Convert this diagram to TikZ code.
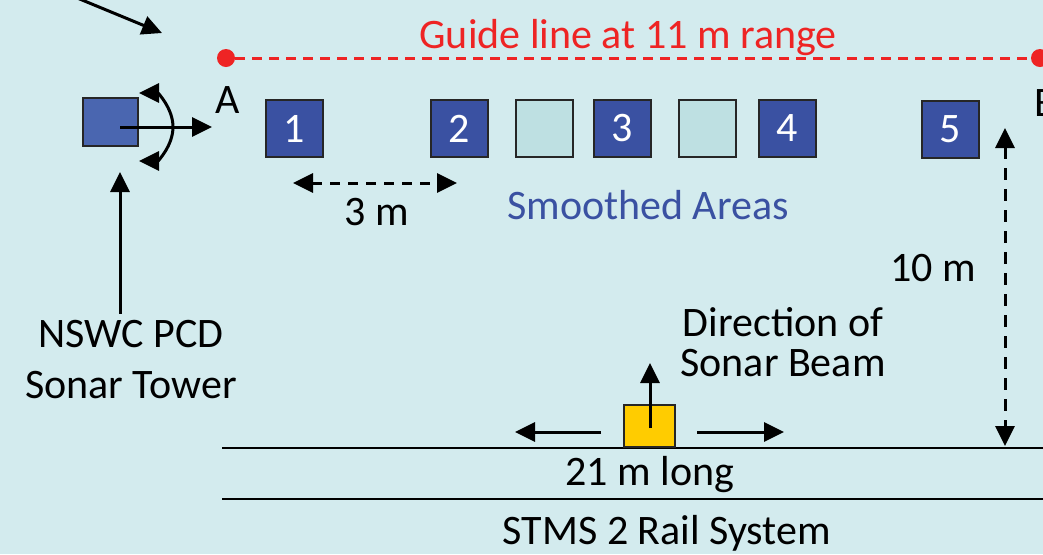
\documentclass[tikz,border=0pt]{standalone}
\usepackage{fontspec}
\setmainfont{Carlito}
\usetikzlibrary{arrows.meta}
\definecolor{bgblue}{HTML}{D3EBEE}
\definecolor{boxblue}{HTML}{3A51A2}
\definecolor{towerblue}{HTML}{4A66B0}
\definecolor{smoothblue}{HTML}{BEE0E2}
\definecolor{guidered}{HTML}{EE2424}
\definecolor{carriage}{HTML}{FFCC00}

\begin{document}
\begin{tikzpicture}[x=0.5pt,y=-0.5pt,
    every node/.style={font=\fontsize{21}{25}\selectfont},
    tip/.style={-{Triangle[length=10pt,width=9.5pt]}},
    twotip/.style={{Triangle[length=10pt,width=9.5pt]}-{Triangle[length=10pt,width=9.5pt]}},
    target/.style={draw=black!85, line width=1pt, minimum size=28.5pt, inner sep=0pt},
    dark/.style={target, fill=boxblue, text=white},
    smooth/.style={target, fill=smoothblue}]
    \fill[bgblue] (0,0) rectangle (1043,554);
    \useasboundingbox (0,0) rectangle (1043,554);
    \clip (0,0) rectangle (1043,554);
    % guide line
    \node[text=guidered] at (628,38) (G) {Guide line at 11 m range};
    \node[circle, fill=guidered, minimum size=9pt, inner sep=0pt] at (226,58) (PA) {};
    \node[circle, fill=guidered, minimum size=9pt, inner sep=0pt] at (1040,58) (PB) {};
    \draw[guidered, line width=1.5pt, dash pattern=on 5pt off 3.5pt] (PA) -- (PB);
    \node[] at (228,100) (A) {A};
    \node[] at (1046,103) (B) {B};
    \coordinate (N0) at (70,-5);
    \coordinate (N1) at (162,33);
    \draw[tip, line width=1.5pt] (N0) -- (N1);
    % tower
    \node[draw=black!85, fill=towerblue, line width=1pt, minimum width=27.5pt, minimum height=24pt, inner sep=0pt] at (110.5,122) (T) {};
    \coordinate (Tc) at (120,127);
    \coordinate (Tb) at (212,127);
    \draw[tip, line width=1.5pt] (Tc) -- (Tb);
    \coordinate (R0) at (139,93);
    \draw[twotip, line width=1.5pt] (R0) arc[start angle=-90, end angle=90, radius=34];
    \node[align=center, font=\fontsize{21}{25.5}\selectfont] at (131,360) (TL) {NSWC PCD\\Sonar Tower};
    \coordinate (Tu) at (120,172);
    \draw[tip, line width=1.5pt] (TL.north -| Tu) -- (Tu);
    % areas
    \node[dark] at (294.5,128.5) (S1) {1};
    \node[dark] at (459.5,128.5) (S2) {2};
    \node[smooth] at (544.5,128.5) (L1) {};
    \node[dark] at (622.5,128.5) (S3) {3};
    \node[smooth] at (707.5,128.5) (L2) {};
    \node[dark] at (787,128.5) (S4) {4};
    \node[dark] at (950,129.5) (S5) {5};
    \coordinate (D0) at (293,183);
    \coordinate (D1) at (457,183);
    \draw[twotip, line width=1.5pt, dash pattern=on 5pt off 4pt] (D0) -- (D1);
    \node[] at (377,212) (D) {3 m};
    \node[text=boxblue] at (648,205) (SA) {Smoothed Areas};
    % range
    \coordinate (V0) at (1005,128);
    \coordinate (V1) at (1005,446);
    \draw[twotip, line width=1.5pt, dash pattern=on 6pt off 4.5pt] (V0) -- (V1);
    \node[] at (933,268) (V) {10 m};
    % rail
    \coordinate (RL0) at (222,448);
    \coordinate (RR0) at (1043,448);
    \coordinate (RL1) at (222,499);
    \coordinate (RR1) at (1043,499);
    \draw[line width=1pt] (RL0) -- (RR0);
    \draw[line width=1pt] (RL1) -- (RR1);
    \node[draw=black!85, fill=carriage, line width=1pt, minimum width=25.5pt, minimum height=21pt, inner sep=0pt, anchor=south] at (649.5,448) (C) {};
    \coordinate (Cc) at (650,428);
    \coordinate (Cu) at (650,363);
    \draw[tip, line width=1.5pt] (Cc) -- (Cu);
    \coordinate (CL0) at (601,432);
    \coordinate (CL1) at (515,432);
    \coordinate (CR0) at (697,432);
    \coordinate (CR1) at (784,432);
    \draw[tip, line width=1.5pt] (CL0) -- (CL1);
    \draw[tip, line width=1.5pt] (CR0) -- (CR1);
    \node[align=center, font=\fontsize{21}{20}\selectfont] at (783,342) (DB) {Direction of\\Sonar Beam};
    \node[] at (650,475) (RL) {21 m long};
    \node[] at (667,533) (RS) {STMS 2 Rail System};
\end{tikzpicture}
\end{document}
